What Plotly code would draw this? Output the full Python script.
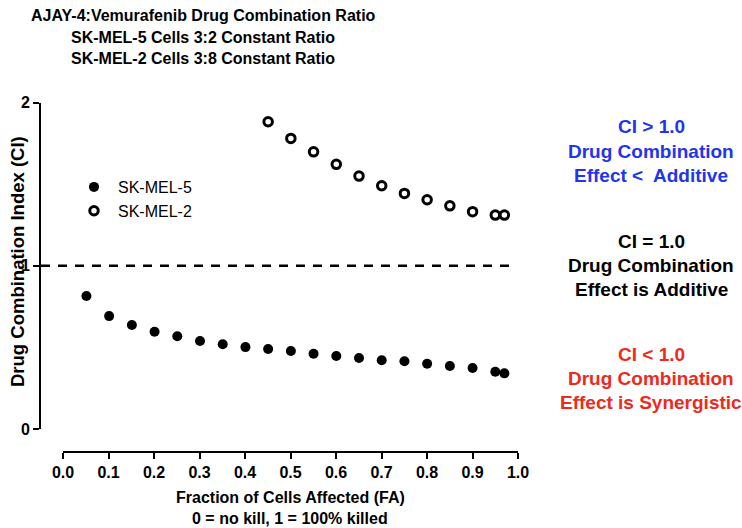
import plotly.graph_objects as go

W, H = 742, 528

fa_mel5 = [0.05, 0.10, 0.15, 0.20, 0.25, 0.30, 0.35, 0.40, 0.45, 0.50,
           0.55, 0.60, 0.65, 0.70, 0.75, 0.80, 0.85, 0.90, 0.95, 0.97]
ci_mel5 = [0.815, 0.692, 0.637, 0.596, 0.568, 0.539, 0.519, 0.502, 0.490, 0.478,
           0.461, 0.447, 0.435, 0.421, 0.415, 0.400, 0.386, 0.374, 0.351, 0.341]

fa_mel2 = [0.45, 0.50, 0.55, 0.60, 0.65, 0.70, 0.75, 0.80, 0.85, 0.90, 0.95, 0.97]
ci_mel2 = [1.883, 1.781, 1.699, 1.622, 1.550, 1.491, 1.444, 1.405, 1.368, 1.332, 1.311, 1.311]

x_ticks = [0.0, 0.1, 0.2, 0.3, 0.4, 0.5, 0.6, 0.7, 0.8, 0.9, 1.0]
x_ticklabels = ["0.0", "0.1", "0.2", "0.3", "0.4", "0.5", "0.6", "0.7", "0.8", "0.9", "1.0"]
y_ticks = [0, 1, 2]
y_ticklabels = ["0", "1", "2"]

additive_ci = 1.0
ref_line_x = [-0.05, 0.987]

title_lines = ["AJAY-4:Vemurafenib Drug Combination Ratio",
               "SK-MEL-5 Cells 3:2 Constant Ratio",
               "SK-MEL-2 Cells 3:8 Constant Ratio"]
x_title = ["Fraction of Cells Affected (FA)", "0 = no kill, 1 = 100% killed"]
y_title = "Drug Combination Index (CI)"
zone_texts = [
    (["CI > 1.0", "Drug Combination", "Effect <  Additive"], "#2234ee", 127),
    (["CI = 1.0", "Drug Combination", "Effect is Additive"], "#000000", 241),
    (["CI < 1.0", "Drug Combination", "Effect is Synergistic"], "#ee2a1c", 354),
]

FONT = "Liberation Sans, Arial, sans-serif"

def px(x):
    return x / W

def py(y):
    return 1 - y / H

fig = go.Figure()

fig.add_trace(go.Scatter(
    x=ref_line_x, y=[additive_ci, additive_ci], mode="lines",
    line=dict(color="black", width=2.5, dash="9px,8px"),
    showlegend=False, hoverinfo="skip"))

fig.add_trace(go.Scatter(
    x=fa_mel5, y=ci_mel5, mode="markers", name="SK-MEL-5",
    marker=dict(symbol="circle", size=10, color="black", line=dict(width=0)),
    cliponaxis=False))

fig.add_trace(go.Scatter(
    x=fa_mel2, y=ci_mel2, mode="markers", name="SK-MEL-2",
    marker=dict(symbol="circle", size=8.5, color="white", line=dict(width=3, color="black")),
    cliponaxis=False))

# invisible trace to drive the displayed x axis
fig.add_trace(go.Scatter(x=[x_ticks[0], x_ticks[-1]], y=[None, None], xaxis="x2",
                         mode="markers", showlegend=False, hoverinfo="skip"))

fig.update_layout(
    width=W, height=H,
    margin=dict(l=0, r=0, t=0, b=0),
    paper_bgcolor="white", plot_bgcolor="rgba(0,0,0,0)",
    font=dict(family=FONT, color="black"),
    showlegend=True,
    legend=dict(x=px(70), y=py(170), xanchor="left", yanchor="top",
                font=dict(family=FONT, size=16, color="black"),
                bgcolor="rgba(0,0,0,0)", itemwidth=38, tracegroupgap=0),
    xaxis=dict(domain=[px(41), px(518)], range=[-0.05, 1.0], visible=False,
               fixedrange=True),
    xaxis2=dict(domain=[px(63), px(518)], range=[0, 1], anchor="free",
                position=py(452), showgrid=False, zeroline=False,
                showline=True, linecolor="black", linewidth=2,
                ticks="outside", ticklen=6, tickwidth=2, tickcolor="black",
                tickvals=x_ticks, ticktext=["<b>%s</b>" % t for t in x_ticklabels],
                tickfont=dict(family=FONT, size=16, color="black"),
                automargin=False),
    yaxis=dict(domain=[py(429), py(102.7)], range=[0, 2], anchor="x",
               showgrid=False, zeroline=False, showline=True, linecolor="black",
               linewidth=2, ticks="outside", ticklen=6, tickwidth=2, tickcolor="black",
               tickvals=y_ticks, ticktext=["<b>%s</b>" % t for t in y_ticklabels],
               tickfont=dict(family=FONT, size=16, color="black"),
               automargin=False),
)

annotations = []
for i, line in enumerate(title_lines):
    annotations.append(dict(x=px(203), y=py(15 + 22 * i), xref="paper", yref="paper",
                            text="<b>%s</b>" % line, showarrow=False,
                            font=dict(family=FONT, size=16, color="black"),
                            xanchor="center", yanchor="middle"))
for i, line in enumerate(x_title):
    annotations.append(dict(x=px(290), y=py(497 + 21 * i), xref="paper", yref="paper",
                            text="<b>%s</b>" % line, showarrow=False,
                            font=dict(family=FONT, size=16, color="black"),
                            xanchor="center", yanchor="middle"))
annotations.append(dict(x=px(17), y=py(262), xref="paper", yref="paper",
                        text="<b>%s</b>" % y_title, showarrow=False, textangle=-90,
                        font=dict(family=FONT, size=18.5, color="black"),
                        xanchor="center", yanchor="middle"))
for lines, color, y0 in zone_texts:
    for i, line in enumerate(lines):
        annotations.append(dict(x=px(651), y=py(y0 + 24 * i), xref="paper", yref="paper",
                                text="<b>%s</b>" % line, showarrow=False,
                                font=dict(family=FONT, size=19, color=color),
                                xanchor="center", yanchor="middle"))
fig.update_layout(annotations=annotations)

fig.write_html("out.html", config={"displayModeBar": False},
               post_script="document.body.style.margin='0';document.body.style.overflow='hidden';")
